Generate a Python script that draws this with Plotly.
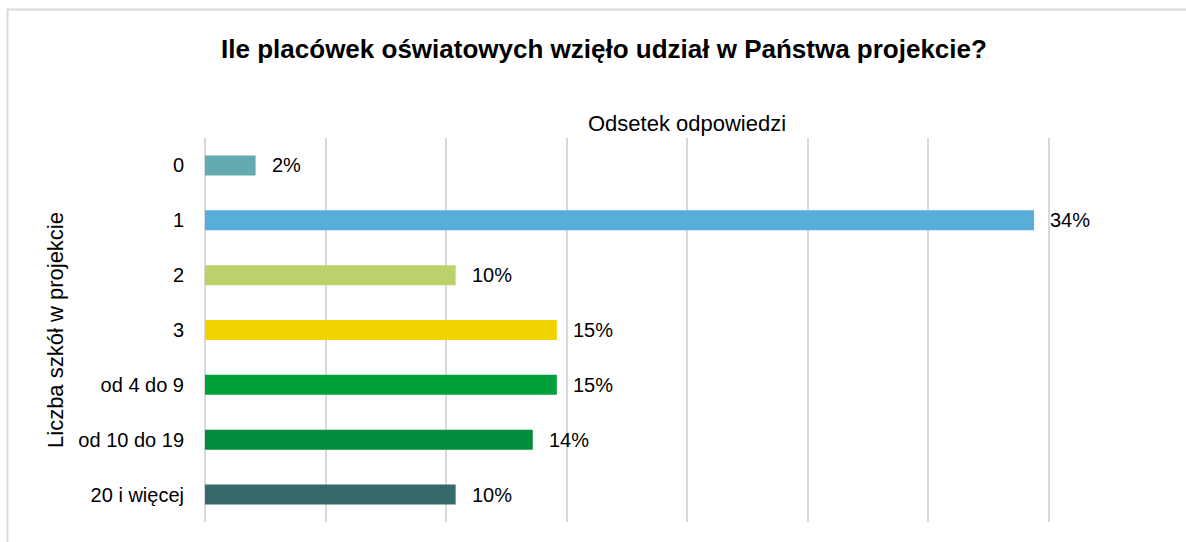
import plotly.graph_objects as go

categories = ["0", "1", "2", "3", "od 4 do 9", "od 10 do 19", "20 i więcej"]
values = [2.1, 34.4, 10.4, 14.6, 14.6, 13.6, 10.4]
labels = ["2%", "34%", "10%", "15%", "15%", "14%", "10%"]
colors = ["#64ABAF", "#58AEDB", "#BBD26A", "#F0D300", "#00A03A", "#008C3C", "#37696C"]
grid_ticks = [0, 5, 10, 15, 20, 25, 30, 35, 40]

FONT = "Liberation Sans Narrow, Arial Narrow, Liberation Sans, Arial, sans-serif"

fig = go.Figure()
fig.add_trace(go.Bar(
    x=values, y=categories, orientation="h",
    marker=dict(color=colors, line=dict(width=0)),
    width=0.365, hoverinfo="skip", showlegend=False,
))

for v, c, t in zip(values, categories, labels):
    fig.add_annotation(x=v, y=c, text=t, showarrow=False, xanchor="left",
                       xshift=14, font=dict(family=FONT, size=20, color="#000000"))

fig.add_annotation(xref="paper", yref="paper", x=0.5, y=1, xanchor="center",
                   yanchor="bottom", yshift=0, showarrow=False,
                   text="Odsetek odpowiedzi",
                   font=dict(family=FONT, size=22, color="#000000"))

L, R, T, B = 205, 17, 138, 20
W, H = 1186, 542
pw, ph = W - L - R, H - T - B

def px2x(px):
    return (px - L) / pw

def py2y(py):
    return (H - B - py) / ph

fig.add_shape(type="rect", xref="paper", yref="paper",
              x0=px2x(7.5), x1=px2x(1195), y0=py2y(560), y1=py2y(9.5),
              line=dict(color="#D9D9D9", width=2), layer="below")

fig.update_layout(
    width=W, height=H,
    margin=dict(l=L, r=R, t=T, b=B, autoexpand=False),
    paper_bgcolor="white", plot_bgcolor="white",
    title=dict(text="<b>Ile placówek oświatowych wzięło udział w Państwa projekcie?</b>",
               xref="container", x=604 / W, xanchor="center",
               yref="container", y=1 - 49 / H, yanchor="middle",
               font=dict(family=FONT, size=26, color="#000000")),
    font=dict(family=FONT, color="#000000"),
    xaxis=dict(range=[0, 40], tickvals=grid_ticks, showticklabels=False,
               side="top", showgrid=True, gridcolor="#D9D9D9", gridwidth=1.5,
               zeroline=True, zerolinecolor="#D9D9D9", zerolinewidth=1.5,
               ticks="", fixedrange=True, automargin=False),
    yaxis=dict(autorange="reversed", showgrid=False, ticks="", ticklabelstandoff=20,
               automargin=False, fixedrange=True,
               tickfont=dict(family=FONT, size=20, color="#000000"),
               title=dict(text="Liczba szkół w projekcie", standoff=8,
                          font=dict(family=FONT, size=22, color="#000000"))),
    bargap=0.6,
)

fig.write_html("out.html", config={"displayModeBar": False},
               post_script="document.body.style.margin='0';document.body.style.overflow='hidden';")
